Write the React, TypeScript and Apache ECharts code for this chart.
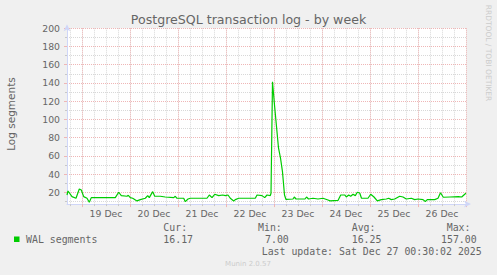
import React, { useEffect, useRef } from "react";
import * as echarts from "echarts";

// x values: hours since 2025-12-18 00:00 (graph spans Dec 18 16:30 .. Dec 27 00:30)
const hours = [
  16.5, 17, 19, 21, 22.65, 23.65, 24.85, 26.5, 27.65, 28.65,
  40.65, 42.35, 43.65, 46.5, 47.15, 48.15, 49.35, 51.5, 53.15, 55.65,
  56.85, 57.65, 59.35, 60.35, 63.15, 65.65, 69.85, 70.65, 71.5, 74.85,
  75.65, 77, 78.15, 86.5, 87.65, 89, 90.35, 92.35, 94.35, 95.65,
  97, 98.15, 99.85, 100.65, 102.35, 110.65, 111.5, 114, 115.35, 116.5,
  118.15, 118.5, 119.25, 120.25, 121.25, 122.25, 123.25, 124.25, 125.25, 126,
  129.5, 130.15, 131, 135.5, 136.25, 137.25, 139.5, 142, 144.5, 147,
  148, 152, 153.35, 155.35, 156.15, 157.35, 158.35, 159.5, 160.65, 161.65,
  162.85, 163.75, 167, 168.35, 170, 171.65, 173.65, 176.15, 177.35, 178.65,
  180.35, 182.85, 184.5, 186.15, 188.65, 190.35, 192, 194.5, 195.65, 196.65,
  200.35, 202, 203.25, 204.65, 208, 212.15, 213.85, 215.5, 216,
];
const walSegments = [
  17.0, 21.4, 15.2, 13.4, 23.6, 22.5, 15.2, 13.4, 9.0, 14.1,
  14.1, 20.0, 16.3, 15.6, 16.7, 14.1, 13.4, 10.5, 11.9, 13.4,
  16.3, 14.1, 20.7, 15.6, 15.6, 14.8, 14.1, 15.6, 13.4, 13.4,
  9.7, 12.6, 13.4, 13.4, 17.0, 14.1, 17.8, 16.3, 17.0, 16.3,
  17.0, 13.4, 10.5, 11.9, 13.4, 13.4, 17.0, 16.3, 14.1, 17.0,
  16.3, 18.9, 141.4, 115.8, 92.0, 68.6, 57.6, 42.3, 17.0, 12.1,
  12.6, 14.8, 12.6, 12.6, 14.8, 12.6, 13.4, 12.6, 13.4, 11.5,
  10.5, 11.0, 17.0, 17.0, 14.8, 17.0, 15.6, 17.8, 16.3, 20.0,
  19.2, 13.4, 13.4, 17.8, 14.8, 10.5, 11.9, 12.6, 13.4, 11.9,
  12.6, 15.6, 14.8, 12.6, 13.4, 11.9, 12.6, 11.9, 9.9, 11.9,
  11.9, 13.4, 19.5, 14.5, 14.8, 15.2, 14.8, 18.1, 18.9,
];

const dayLabels = ["19 Dec", "20 Dec", "21 Dec", "22 Dec", "23 Dec", "24 Dec", "25 Dec", "26 Dec"];
const dayLabelHours = [36, 60, 84, 108, 132, 156, 180, 204];
const midnightHours = [24, 48, 72, 96, 120, 144, 168, 192, 216];
const sixHourTicks = [18, 24, 30, 36, 42, 48, 54, 60, 66, 72, 78, 84, 90, 96, 102, 108, 114, 120, 126, 132, 138, 144, 150, 156, 162, 168, 174, 180, 186, 192, 198, 204, 210, 216];
const yMajorTicks = [20, 40, 60, 80, 100, 120, 140, 160, 180, 200];
const yMinorTicks = [10, 20, 30, 40, 50, 60, 70, 80, 90, 100, 110, 120, 130, 140, 150, 160, 170, 180, 190, 200];

const titleText = "PostgreSQL transaction log - by week";
const yAxisName = "Log segments";
const seriesName = "WAL segments";
const statHeads = ["Cur:", "Min:", "Avg:", "Max:"];
const statValues = ["16.17", "7.00", "16.25", "157.00"];
const lastUpdate = "Last update: Sat Dec 27 00:30:02 2025";
const watermark = "RRDTOOL / TOBI OETIKER";
const footer = "Munin 2.0.57";

const FONT = "#666666";
const LINE = "#00cc00";
const AXIS = "#cfd6f8";
const MINOR = "#d8d8d8";
const MAJOR = "#efb6b6";

export default function App() {
  const ref = useRef<HTMLDivElement>(null);
  useEffect(() => {
    if (!ref.current) return;
    const chart = echarts.init(ref.current, undefined, { renderer: "svg" });
    const data = hours.map((h, i) => [h, walSegments[i]]);
    const mono = "DejaVu Sans Mono";
    const sans = "DejaVu Sans";
    const monoText = (text: string, x: number, y: number) => ({
      type: "text",
      x,
      y,
      style: { text, fill: FONT, font: `9.9px '${mono}'`, textAlign: "left", textVerticalAlign: "middle" },
    });
    const headX = [163.3, 258, 351.7, 446.7];
    const valX = [163.3, 265, 351.7, 441];
    const option: any = {
      animation: false,
      backgroundColor: "#f0f0f0",
      textStyle: { fontFamily: sans },
      grid: {
        left: 67,
        right: 30,
        top: 28.3,
        bottom: 70.9,
        show: true,
        backgroundColor: "#ffffff",
        borderWidth: 0,
      },
      xAxis: [
        {
          type: "value",
          position: "bottom",
          min: 16.5,
          max: 216.5,
          axisLine: { show: false },
          axisTick: { show: true, customValues: sixHourTicks, length: 2, lineStyle: { color: "#c8c8c8" } },
          axisLabel: { show: false },
          splitLine: { show: true, lineStyle: { color: MINOR, width: 1, type: [1, 1] } },
        },
        {
          type: "value",
          position: "bottom",
          min: 16.5,
          max: 216.5,
          axisLine: {
            show: true,
            lineStyle: { color: AXIS, width: 1 },
            symbol: ["none", "arrow"],
            symbolSize: [5, 7],
            symbolOffset: [0, 4],
          },
          axisTick: { show: true, customValues: midnightHours, length: 3, lineStyle: { color: MAJOR } },
          axisLabel: {
            show: true,
            customValues: dayLabelHours,
            formatter: (v: number) => dayLabels[dayLabelHours.indexOf(v)] ?? "",
            color: FONT,
            fontSize: 9.3,
            fontFamily: sans,
            margin: 5,
          },
          splitLine: { show: true, lineStyle: { color: MAJOR, width: 1, type: [1, 1] } },
        },
      ],
      yAxis: [
        {
          type: "value",
          position: "left",
          min: 7,
          max: 200,
          axisLine: { show: false },
          axisTick: { show: true, customValues: yMinorTicks, length: 2, lineStyle: { color: "#c8c8c8" } },
          axisLabel: { show: false },
          splitLine: { show: true, lineStyle: { color: MINOR, width: 1, type: [1, 1] } },
        },
        {
          type: "value",
          position: "left",
          min: 7,
          max: 200,
          axisLine: {
            show: true,
            lineStyle: { color: AXIS, width: 1 },
            symbol: ["none", "arrow"],
            symbolSize: [5, 7],
            symbolOffset: [0, 4],
          },
          axisTick: { show: true, customValues: yMajorTicks, length: 3, lineStyle: { color: MAJOR } },
          axisLabel: {
            show: true,
            customValues: yMajorTicks,
            color: FONT,
            fontSize: 9.3,
            fontFamily: sans,
            margin: 7,
          },
          splitLine: { show: true, lineStyle: { color: MAJOR, width: 1, type: [1, 1] } },
        },
      ],
      series: [
        {
          name: seriesName,
          type: "line",
          xAxisIndex: 1,
          yAxisIndex: 1,
          data,
          showSymbol: false,
          symbol: "none",
          lineStyle: { color: LINE, width: 1.2 },
          z: 5,
        },
      ],
      graphic: [
        {
          type: "text",
          x: 248.5,
          y: 19.5,
          style: { text: titleText, fill: FONT, font: `12.6px '${sans}'`, textAlign: "center", textVerticalAlign: "middle" },
        },
        {
          type: "text",
          x: 11,
          y: 114,
          rotation: Math.PI / 2,
          style: { text: yAxisName, fill: FONT, font: `10.5px '${sans}'`, textAlign: "center", textVerticalAlign: "middle" },
        },
        {
          type: "text",
          x: 488,
          y: 53,
          rotation: -Math.PI / 2,
          style: { text: watermark, fill: "#cccccc", font: `7.5px '${sans}'`, textAlign: "center", textVerticalAlign: "middle" },
        },
        {
          type: "rect",
          shape: { x: 14, y: 236.5, width: 5.5, height: 5.5 },
          style: { fill: LINE },
        },
        monoText(seriesName, 26, 239.5),
        ...statHeads.map((t, i) => monoText(t, headX[i], 227.7)),
        ...statValues.map((t, i) => monoText(t, valX[i], 239.5)),
        monoText(lastUpdate, 261.7, 251.1),
        {
          type: "text",
          x: 248,
          y: 264.3,
          style: { text: footer, fill: "#cccccc", font: `7px '${sans}'`, textAlign: "center", textVerticalAlign: "middle" },
        },
      ],
    };
    chart.setOption(option);
    return () => chart.dispose();
  }, []);
  return <div ref={ref} style={{ position: "absolute", left: 0, top: 0, width: 497, height: 275 }} />;
}
